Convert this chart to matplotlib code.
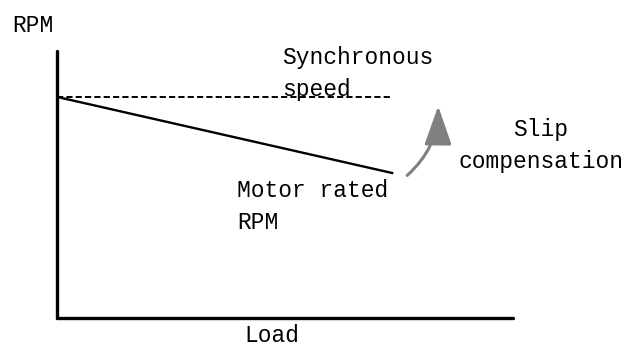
import matplotlib.pyplot as plt
from matplotlib.patches import FancyArrowPatch

# load / rpm in arbitrary units (axis spans 0..100 both ways)
load = [0, 73.5]
sync_speed = [82.8, 82.8]
motor_rpm = [82.8, 54.3]

W, H = 626, 354
fig = plt.figure(figsize=(W / 100, H / 100), dpi=100)
plt.rcParams['font.family'] = ['Liberation Mono', 'DejaVu Sans Mono']

# axes placed in pixels: origin (57, 318), top 51, right 513
x0, y0, x1, y1 = 57, 318, 513, 51
ax = fig.add_axes([x0 / W, 1 - y0 / H, (x1 - x0) / W, (y0 - y1) / H])
ax.set_xlim(0, 100)
ax.set_ylim(0, 100)
ax.set_xticks([])
ax.set_yticks([])
for s in ['top', 'right']:
    ax.spines[s].set_visible(False)
for s in ['left', 'bottom']:
    ax.spines[s].set_linewidth(2.4)
    ax.spines[s].set_capstyle('round')

ax.plot(load, sync_speed, color='black', lw=1.4, ls=(0, (3.2, 1.6)))
ax.plot(load, motor_rpm, color='black', lw=1.7)

# slip compensation arrow
arr = FancyArrowPatch((76.8, 53.4), (83.6, 79.4), transform=ax.transData,
                      connectionstyle='arc3,rad=0.22', arrowstyle='-|>,head_length=1.2,head_width=0.42',
                      mutation_scale=20, color='#808080', lw=2.2, clip_on=False,
                      shrinkA=0, shrinkB=0)
ax.add_patch(arr)

fs = 16.5
def ftext(px, py, s, **kw):
    fig.text(px / W, 1 - py / H, s, fontsize=fs, linespacing=1.5, **kw)

ftext(12, 25, 'RPM', ha='left', va='center')
ftext(282, 46, 'Synchronous\nspeed', ha='left', va='top', multialignment='left')
ftext(541, 118, 'Slip\ncompensation', ha='center', va='top', multialignment='center')
ftext(237, 179, 'Motor rated\nRPM', ha='left', va='top', multialignment='left')
ftext(272, 336, 'Load', ha='center', va='center')

fig.savefig('out.png', dpi=100)
